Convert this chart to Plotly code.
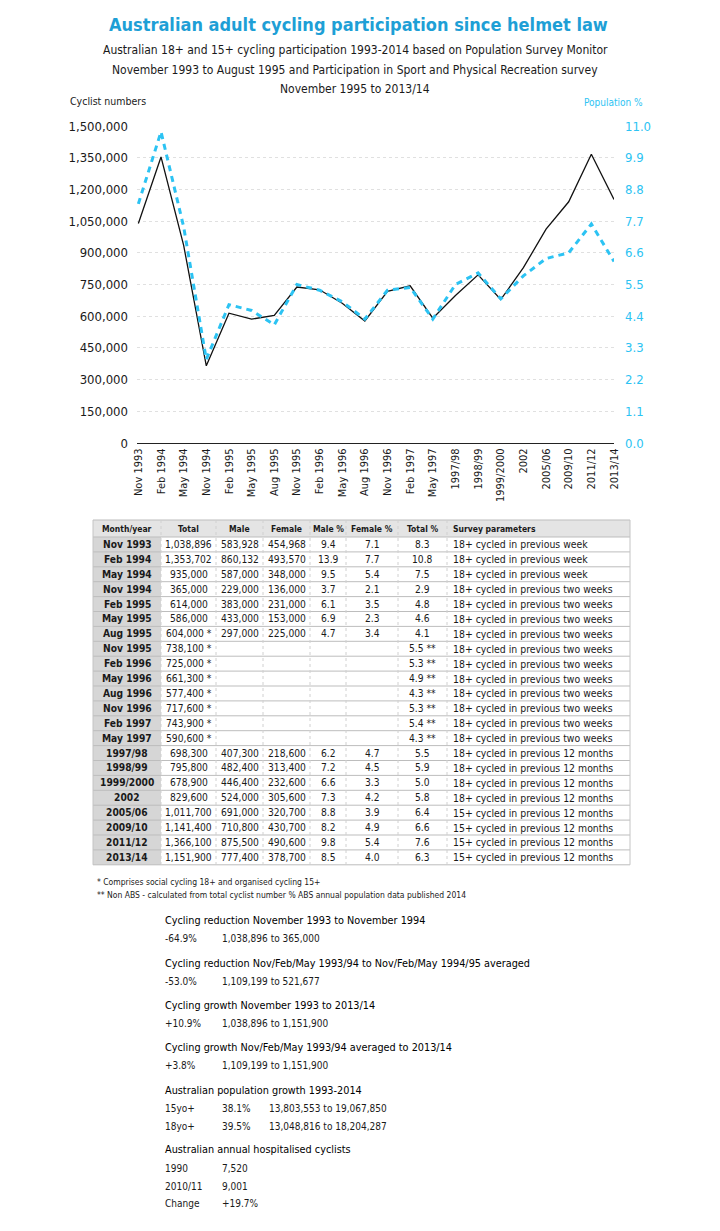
import plotly.graph_objects as go

W, H = 712, 1223
OFF = 8
def px(x): return (x - OFF) / W
def py(y): return 1 - (y - OFF) / H

FONT = "DejaVu Sans Condensed, DejaVu Sans, Lato"
BLUE_T = "#1e9fd6"
BLUE_L = "#2cc3f3"
TXT = "#1a1a1a"

categories = ["Nov 1993", "Feb 1994", "May 1994", "Nov 1994", "Feb 1995", "May 1995", "Aug 1995",
              "Nov 1995", "Feb 1996", "May 1996", "Aug 1996", "Nov 1996", "Feb 1997", "May 1997",
              "1997/98", "1998/99", "1999/2000", "2002", "2005/06", "2009/10", "2011/12", "2013/14"]
totals = [1038896, 1353702, 935000, 365000, 614000, 586000, 604000,
          738100, 725000, 661300, 577400, 717600, 743900, 590600,
          698300, 795800, 678900, 829600, 1011700, 1141400, 1366100, 1151900]
total_pct = [8.3, 10.8, 7.5, 2.9, 4.8, 4.6, 4.1,
             5.5, 5.3, 4.9, 4.3, 5.3, 5.4, 4.3,
             5.5, 5.9, 5.0, 5.8, 6.4, 6.6, 7.6, 6.3]
N7 = [None] * 7
male = [583928, 860132, 587000, 229000, 383000, 433000, 297000] + N7 + \
       [407300, 482400, 446400, 524000, 691000, 710800, 875500, 777400]
female = [454968, 493570, 348000, 136000, 231000, 153000, 225000] + N7 + \
         [218600, 313400, 232600, 305600, 320700, 430700, 490600, 378700]
male_pct = [9.4, 13.9, 9.5, 3.7, 6.1, 6.9, 4.7] + N7 + [6.2, 7.2, 6.6, 7.3, 8.8, 8.2, 9.8, 8.5]
female_pct = [7.1, 7.7, 5.4, 2.1, 3.5, 2.3, 3.4] + N7 + [4.7, 4.5, 3.3, 4.2, 3.9, 4.9, 5.4, 4.0]
total_star = [False] * 6 + [True] * 8 + [False] * 8
pct_star = [False] * 7 + [True] * 7 + [False] * 8
survey = (["18+ cycled in previous week"] * 3 + ["18+ cycled in previous two weeks"] * 11 +
          ["18+ cycled in previous 12 months"] * 4 + ["15+ cycled in previous 12 months"] * 4)
headers = ["Month/year", "Total", "Male", "Female", "Male %", "Female %", "Total %", "Survey parameters"]

left_ticks = [0, 150000, 300000, 450000, 600000, 750000, 900000, 1050000, 1200000, 1350000, 1500000]
right_ticks = [0.0, 1.1, 2.2, 3.3, 4.4, 5.5, 6.6, 7.7, 8.8, 9.9, 11.0]

stats = [
    ("Cycling reduction November 1993 to November 1994", [("-64.9%", "1,038,896 to 365,000", "")]),
    ("Cycling reduction Nov/Feb/May 1993/94 to Nov/Feb/May 1994/95 averaged", [("-53.0%", "1,109,199 to 521,677", "")]),
    ("Cycling growth November 1993 to 2013/14", [("+10.9%", "1,038,896 to 1,151,900", "")]),
    ("Cycling growth Nov/Feb/May 1993/94 averaged to 2013/14", [("+3.8%", "1,109,199 to 1,151,900", "")]),
    ("Australian population growth 1993-2014", [("15yo+", "38.1%", "13,803,553 to 19,067,850"),
                                                ("18yo+", "39.5%", "13,048,816 to 18,204,287")]),
    ("Australian annual hospitalised cyclists", [("1990", "7,520", ""), ("2010/11", "9,001", ""),
                                                 ("Change", "+19.7%", "")]),
]
footnotes = ["* Comprises social cycling 18+ and organised cycling 15+",
             "** Non ABS - calculated from total cyclist number % ABS annual population data published 2014"]

fig = go.Figure()
fig.add_trace(go.Scatter(x=categories, y=totals, mode="lines",
                         line=dict(color="#111111", width=1.3), yaxis="y", showlegend=False,
                         hoverinfo="skip"))
fig.add_trace(go.Scatter(x=categories, y=total_pct, mode="lines",
                         line=dict(color=BLUE_L, width=3, dash="6px,5px"), yaxis="y2", showlegend=False,
                         hoverinfo="skip"))

def fmt_int(v):
    return "" if v is None else f"{v:,}"
def fmt_f(v):
    return "" if v is None else f"{v:.1f}"

columns = [
    [f"<b>{c}</b>" for c in categories],
    [f"{v:,}" + (" *" if s else "") for v, s in zip(totals, total_star)],
    [fmt_int(v) for v in male],
    [fmt_int(v) for v in female],
    [fmt_f(v) for v in male_pct],
    [fmt_f(v) for v in female_pct],
    [f"{v:.1f}" + (" **" if s else "") for v, s in zip(total_pct, pct_star)],
    survey,
]

# ---- table layout (built with shapes + annotations) ----
colx = [93, 161, 216, 263, 310, 346, 398, 447, 630]
T_TOP, HEAD_H, ROW_H = 520, 17, 14.9
n = len(categories)
T_BOT = T_TOP + HEAD_H + n * ROW_H

shapes = []
def rect(x0, y0, x1, y1, fill, line="rgba(0,0,0,0)", lw=0):
    shapes.append(dict(type="rect", xref="paper", yref="paper", x0=px(x0), x1=px(x1),
                       y0=py(y1), y1=py(y0), fillcolor=fill, line=dict(color=line, width=lw),
                       layer="below"))
def hline(x0, x1, y, color, lw=1, dash="solid"):
    shapes.append(dict(type="line", xref="paper", yref="paper", x0=px(x0), x1=px(x1),
                       y0=py(y), y1=py(y), line=dict(color=color, width=lw, dash=dash), layer="below"))
def vline(x, y0, y1, color, lw=1, dash="solid"):
    shapes.append(dict(type="line", xref="paper", yref="paper", x0=px(x), x1=px(x),
                       y0=py(y0), y1=py(y1), line=dict(color=color, width=lw, dash=dash), layer="below"))

rect(colx[0], T_TOP, colx[-1], T_TOP + HEAD_H, "#e4e4e4")
rect(colx[0], T_TOP + HEAD_H, colx[1], T_BOT, "#d6d6d6")
for i in range(n + 2):
    yy = T_TOP if i == 0 else T_TOP + HEAD_H + (i - 1) * ROW_H
    hline(colx[0], colx[-1], yy, "#bdbdbd", 1)
for j, cx in enumerate(colx):
    vline(cx, T_TOP, T_BOT, "#c4c4c4" if j in (0, len(colx) - 1) else "#d0d0d0", 1,
          "solid" if j in (0, len(colx) - 1) else "dot")

ann = []
def text(t, x, y, size, color=TXT, xanchor="center"):
    ann.append(dict(text=t, x=px(x), y=py(y), xref="paper", yref="paper", showarrow=False,
                    xanchor=xanchor, yanchor="middle", font=dict(size=size, color=color, family=FONT)))

for j, h in enumerate(headers):
    cy = T_TOP + HEAD_H / 2
    if j == len(headers) - 1:
        text(f"<b>{h}</b>", colx[j] + 4, cy, 8.5, xanchor="left")
    else:
        text(f"<b>{h}</b>", (colx[j] + colx[j + 1]) / 2, cy, 8.5)
for j, col in enumerate(columns):
    for i, v in enumerate(col):
        if not v:
            continue
        cy = T_TOP + HEAD_H + (i + 0.5) * ROW_H
        if j == len(columns) - 1:
            text(v, colx[j] + 4, cy, 10.4, xanchor="left")
        else:
            text(v, (colx[j] + colx[j + 1]) / 2, cy, 10.2)

# ---- titles ----
text("<b>Australian adult cycling participation since helmet law</b>", 358, 24, 18, BLUE_T)
for t, yy in [("Australian 18+ and 15+ cycling participation 1993-2014 based on Population Survey Monitor", 50),
              ("November 1993 to August 1995 and Participation in Sport and Physical Recreation survey", 70),
              ("November 1995 to 2013/14", 89)]:
    text(t, 355, yy, 12)
text("Cyclist numbers", 68, 101, 10.5, xanchor="left")
text("Population %", 645, 102, 10, BLUE_L, xanchor="right")
for i, t in enumerate(footnotes):
    text(t, 95, 882 + 13 * i, 8.5, xanchor="left")

ys = [(920, [938]), (963, [981]), (1005, [1023]), (1047, [1065]), (1090, [1108, 1126]),
      (1149, [1168, 1186, 1203])]
for (head, rows), (hy, rys) in zip(stats, ys):
    text(head, 163, hy, 10.8, "#000", xanchor="left")
    for (a, b, c), ry in zip(rows, rys):
        text(a, 163, ry, 10, xanchor="left")
        text(b, 220, ry, 10, xanchor="left")
        if c:
            text(c, 267, ry, 10, xanchor="left")

fig.update_layout(
    width=W, height=H, margin=dict(l=0, r=0, t=0, b=0, autoexpand=False),
    paper_bgcolor="white", plot_bgcolor="white",
    font=dict(family=FONT, color=TXT),
    xaxis=dict(domain=[px(137), px(614)], type="category", range=[-0.06, 21.0],
               tickangle=-90, tickfont=dict(size=11, color=TXT), showgrid=False,
               showline=True, linecolor="#222", linewidth=1, ticks="", fixedrange=True),
    yaxis=dict(domain=[py(443), py(126)], range=[0, 1500000], tickvals=left_ticks,
               tickformat=",", tickfont=dict(size=13, color=TXT), showgrid=True,
               gridcolor="#e0e0e0", griddash="dot", gridwidth=1, zeroline=False, ticklabelstandoff=8),
    yaxis2=dict(overlaying="y", side="right", range=[0, 11], tickvals=right_ticks,
                tickformat=".1f", tickfont=dict(size=13, color=BLUE_L), showgrid=False,
                zeroline=False, anchor="x", ticklabelstandoff=10),
    annotations=ann, shapes=shapes, showlegend=False,
)

fig.write_html("out.html")
